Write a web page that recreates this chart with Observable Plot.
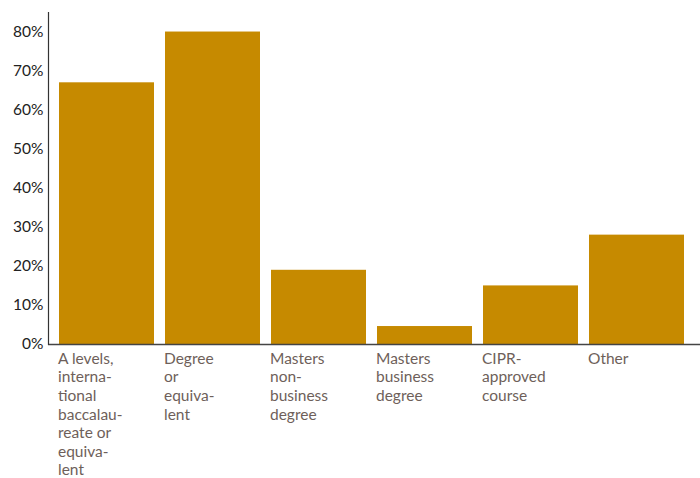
<!DOCTYPE html>
<html>
<head>
<meta charset="utf-8">
<script src="https://cdn.jsdelivr.net/npm/d3@7"></script>
<script src="https://cdn.jsdelivr.net/npm/@observablehq/plot@0.6"></script>
<style>
  html, body { margin: 0; padding: 0; background: #fff; }
  #chart svg { display: block; }
</style>
</head>
<body>
<div id="chart"></div>
<script>
const categories = ["A levels", "Degree", "Masters non-business", "Masters business", "CIPR", "Other"];
const labels = [
  "A levels,\ninterna-\ntional\nbaccalau-\nreate or\nequiva-\nlent",
  "Degree\nor\nequiva-\nlent",
  "Masters\nnon-\nbusiness\ndegree",
  "Masters\nbusiness\ndegree",
  "CIPR-\napproved\ncourse",
  "Other"
];
const values = [67, 80, 19, 4.6, 15, 28];
const yTicks = [0, 10, 20, 30, 40, 50, 60, 70, 80];

const data = categories.map((c, i) => ({cat: c, label: labels[i], value: values[i]}));
const labelOf = new Map(data.map(d => [d.cat, d.label]));

const chart = Plot.plot({
  width: 700,
  height: 478,
  marginTop: 12,
  marginBottom: 134,
  marginLeft: 48,
  marginRight: 0,
  style: {fontFamily: "Lato, 'Open Sans', sans-serif", background: "#fff", overflow: "visible"},
  x: {domain: categories, range: [48, 695], padding: 0.1},
  y: {domain: [0, 85]},
  marks: [
    Plot.barY(data, {x: "cat", y: "value", fill: "#C68A00"}),
    Plot.ruleY([0], {stroke: "#444", strokeWidth: 1.5}),
    Plot.frame({anchor: "left", stroke: "#333", strokeWidth: 1.2}),
    Plot.axisY({
      ticks: yTicks,
      tickSize: 0,
      tickPadding: 5,
      tickFormat: d => d + "%",
      fontSize: 15.5,
      fill: "#222",
      label: null
    }),
    Plot.axisX({
      tickSize: 0,
      tickPadding: 6,
      tickFormat: d => labelOf.get(d),
      textAnchor: "start",
      dx: -49,
      lineHeight: 1.2,
      fontSize: 15.5,
      fill: "#6e5f5a",
      label: null
    })
  ]
});
document.getElementById("chart").appendChild(chart);
</script>
</body>
</html>
